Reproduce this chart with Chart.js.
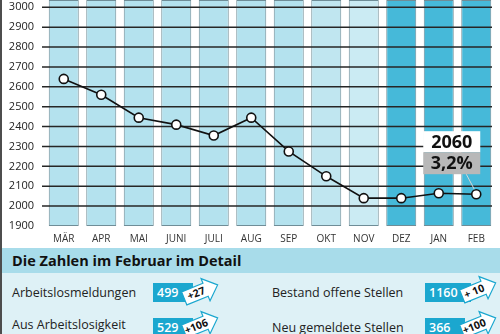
<!DOCTYPE html>
<html>
<head>
<meta charset="utf-8">
<script src="https://cdn.jsdelivr.net/npm/chart.js@4/dist/chart.umd.min.js"></script>
<style>
  body { margin: 0; width: 500px; height: 334px; overflow: hidden; background: #fff; font-family: 'Open Sans', sans-serif; position: relative; }
  #wrap { position: absolute; left: 0; top: 0; width: 500px; height: 252px; }
  #band { position: absolute; left: 0; top: 248px; width: 500px; height: 25px; background: #a8dcea; }
  #band h2 { margin: 0; padding-left: 12px; font-size: 14.5px; font-weight: 700; line-height: 25px; color: #111; }
  #panel { position: absolute; left: 0; top: 273px; width: 500px; height: 61px; background: #def1f6; }
  #frame { position: absolute; left: 0; top: 0; width: 2px; height: 334px; background: #4d4d4d; }
  .lbl { position: absolute; font-size: 12.5px; color: #222; line-height: 16px; white-space: nowrap; }
  .box { position: absolute; height: 19px; background: #1ba7cf; color: #fff; font-size: 12.5px; font-weight: 600; line-height: 19px; padding-left: 4px; }
  .arrow { position: absolute; width: 44px; height: 32px; }
</style>
</head>
<body>
<div id="wrap"><canvas id="jobChart"></canvas></div>
<div id="band"><h2>Die Zahlen im Februar im Detail</h2></div>
<div id="panel"></div>
<div id="rows"></div>
<div id="frame"></div>

<script>
const months = ['MÄR', 'APR', 'MAI', 'JUNI', 'JULI', 'AUG', 'SEP', 'OKT', 'NOV', 'DEZ', 'JAN', 'FEB'];
const values = [2640, 2560, 2445, 2410, 2355, 2445, 2275, 2150, 2040, 2040, 2065, 2060];
const yTicks = [1900, 2000, 2100, 2200, 2300, 2400, 2500, 2600, 2700, 2800, 2900, 3000];
const yMin = 1900;
const yMax = 3037;
const calloutPct = '3,2%';

const detailLabels = ['Arbeitslosmeldungen', 'Aus Arbeitslosigkeit', 'Bestand offene Stellen', 'Neu gemeldete Stellen'];
const detailValues = [499, 529, 1160, 366];
const detailChanges = ['+27', '+106', '+ 10', '+100'];

const columnColors = ['#b4e2ee', '#b4e2ee', '#b4e2ee', '#b4e2ee', '#b4e2ee', '#b4e2ee', '#b4e2ee',
                      '#c0e6f0', '#cbebf3', '#46b9d9', '#46b9d9', '#46b9d9'];

// detail rows below the chart
const rowPos = [
    { lx: 12, ly: 285, bx: 153, by: 283, bw: 36, ax: 178, ay: 275 },
    { lx: 12, ly: 317, bx: 153, by: 318, bw: 36, ax: 178, ay: 308 },
    { lx: 272, ly: 285, bx: 425, by: 283, bw: 42, ax: 456, ay: 273 },
    { lx: 272, ly: 320, bx: 425, by: 318, bw: 36, ax: 456, ay: 308 }
];
const rowsEl = document.getElementById('rows');
detailLabels.forEach((txt, i) => {
    const p = rowPos[i];
    rowsEl.insertAdjacentHTML('beforeend', `
        <div class="lbl" style="left:${p.lx}px;top:${p.ly}px">${txt}</div>
        <div class="box" style="left:${p.bx}px;top:${p.by}px;width:${p.bw}px">${detailValues[i]}</div>
        <svg class="arrow" style="left:${p.ax}px;top:${p.ay}px" viewBox="0 0 44 32">
          <g transform="translate(22 17) rotate(-22)">
            <polygon points="-17,-7 6,-7 6,-12 19,0 6,12 6,7 -17,7" fill="#fff" stroke="#1ba7cf" stroke-width="1.2"/>
            <text x="-4" y="3.5" font-family="Open Sans" font-weight="700" font-size="10.5" text-anchor="middle" fill="#111">${detailChanges[i]}</text>
          </g>
        </svg>`);
});

// horizontal grid lines drawn above the columns but under the line
const gridOverBars = {
    id: 'gridOverBars',
    beforeDatasetDraw(chart, args) {
        if (args.index !== 0) return;
        const y = chart.scales.y, a = chart.chartArea, c = chart.ctx;
        c.save();
        c.strokeStyle = '#262626';
        c.lineWidth = 1.5;
        y.ticks.forEach(t => {
            if (t.value <= yMin) return;
            const py = y.getPixelForValue(t.value);
            c.beginPath();
            c.moveTo(a.left - 3, py);
            c.lineTo(a.right - 3, py);
            c.stroke();
        });
        c.restore();
    }
};

const callout = {
    id: 'callout',
    afterDatasetsDraw(chart) {
        const pt = chart.getDatasetMeta(0).data[values.length - 1];
        const c = chart.ctx;
        const w = 57, h1 = 21, h2 = 22;
        const left = pt.x - 53, top = pt.y - 63;
        c.save();
        c.strokeStyle = '#d6d6d6';
        c.lineWidth = 1;
        c.beginPath();
        c.moveTo(pt.x - 10, top + h1 + h2);
        c.lineTo(pt.x - 2, pt.y - 5);
        c.stroke();
        c.fillStyle = '#fff';
        c.fillRect(left, top, w, h1);
        c.fillStyle = '#b8b8b8';
        c.fillRect(left, top + h1, w, h2);
        c.fillStyle = '#111';
        c.font = 'bold 18px "Open Sans"';
        c.textAlign = 'center';
        c.textBaseline = 'middle';
        c.fillText(String(values[values.length - 1]), left + w / 2, top + h1 / 2 + 1);
        c.fillText(calloutPct, left + w / 2, top + h1 + h2 / 2 + 1);
        c.restore();
    }
};

const ctx = document.getElementById('jobChart').getContext('2d');
const jobChart = new Chart(ctx, {
    data: {
        labels: months,
        datasets: [{
            type: 'line',
            data: values,
            order: 0,
            borderColor: '#111',
            borderWidth: 1.6,
            tension: 0,
            pointRadius: 4.5,
            pointBackgroundColor: '#fff',
            pointBorderColor: '#111',
            pointBorderWidth: 1.6,
        }, {
            type: 'bar',
            data: months.map(() => [yMin, yMax]),
            order: 1,
            backgroundColor: columnColors,
            borderColor: '#6f8d97',
            borderWidth: 1,
            borderSkipped: false,
            barPercentage: 0.8,
            categoryPercentage: 1,
        }]
    },
    options: {
        responsive: true,
        maintainAspectRatio: false,
        animation: false,
        layout: { autoPadding: false, padding: { left: 0, right: 5, top: 0, bottom: 0 } },
        plugins: { legend: { display: false }, tooltip: { enabled: false } },
        scales: {
            x: {
                offset: true,
                grid: { display: false, drawTicks: false },
                border: { display: false },
                ticks: { color: '#333', padding: 7, font: { size: 10, family: 'Open Sans' }, maxRotation: 0 }
            },
            y: {
                min: yMin,
                max: yMax,
                grid: { display: false, drawTicks: false },
                border: { display: false },
                ticks: { color: '#222', padding: 11, font: { size: 11, family: 'Open Sans' }, callback: (v) => String(v) },
                afterBuildTicks: (s) => { s.ticks = yTicks.map(v => ({ value: v })); },
                afterFit: (s) => { s.width = 45; s.paddingTop = 0; s.paddingBottom = 0; }
            }
        }
    },
    plugins: [gridOverBars, callout]
});
</script>
</body>
</html>
